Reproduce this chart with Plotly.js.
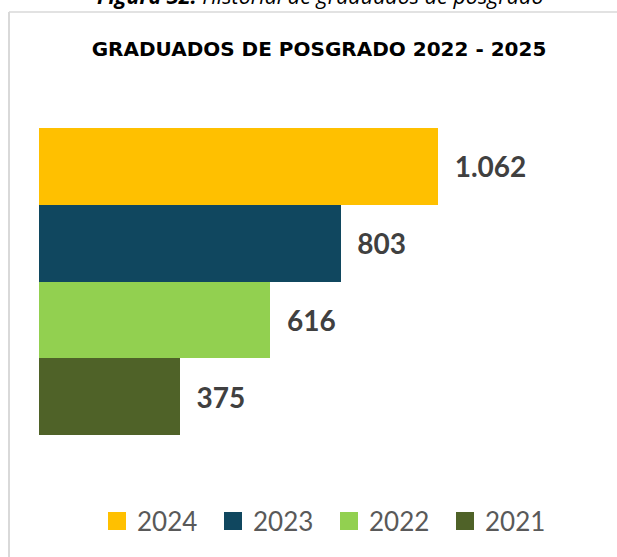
<!DOCTYPE html>
<html>
<head>
<meta charset="utf-8">
<script src="https://cdn.plot.ly/plotly-3.0.1.min.js"></script>
<style>
  html, body { margin: 0; padding: 0; background: #ffffff; }
  #chart { width: 617px; height: 557px; }
</style>
</head>
<body>
<div id="chart"></div>
<script>
// Data
const years = ['2024', '2023', '2022', '2021'];
const graduados = [1062, 803, 616, 375];
const barColors = ['#FFC000', '#10475F', '#92D050', '#4F6228'];

const chartTitle = 'GRADUADOS DE POSGRADO 2022 - 2025';
const captionText = '<b>Figura 32.</b> Historial de graduados de posgrado';

const traces = [];
years.forEach((yr, i) => {
  traces.push({
    type: 'bar',
    orientation: 'h',
    name: yr,
    y: [yr],
    x: [graduados[i]],
    marker: { color: barColors[i], line: { width: 0 } },
    texttemplate: '\u00a0\u00a0%{x:,}',
    textposition: 'outside',
    cliponaxis: false,
    textfont: { family: 'Lato, sans-serif', size: 28, color: '#404040', weight: 'bold' },
    showlegend: false,
    hoverinfo: 'skip'
  });
});
// legend entries
years.forEach((yr, i) => {
  traces.push({
    type: 'scatter',
    mode: 'markers',
    name: yr,
    x: [null],
    y: [null],
    marker: { symbol: 'square', size: 16, color: barColors[i], line: { width: 2, color: barColors[i] } },
    showlegend: true,
    hoverinfo: 'skip'
  });
});

const layout = {
  width: 617,
  height: 557,
  margin: { l: 39, r: 17, t: 128, b: 122 },
  paper_bgcolor: '#ffffff',
  plot_bgcolor: '#ffffff',
  separators: ',.',
  barmode: 'stack',
  bargap: 0,
  showlegend: true,
  title: {
    text: '<b>' + chartTitle + '</b>',
    font: { family: '"DejaVu Sans", sans-serif', size: 20, color: '#000000' },
    xref: 'container', x: 0.517, xanchor: 'center',
    yref: 'container', y: 1 - 49 / 557, yanchor: 'middle'
  },
  xaxis: {
    range: [0, 1493],
    visible: false,
    showgrid: false,
    zeroline: false,
    fixedrange: true
  },
  yaxis: {
    type: 'category',
    categoryorder: 'array',
    categoryarray: years.slice().reverse(),
    range: [-0.5, 3.5],
    visible: false,
    showgrid: false,
    fixedrange: true
  },
  legend: {
    orientation: 'h',
    xref: 'container', x: 97 / 617, xanchor: 'left',
    yref: 'container', y: 1 - 521 / 557, yanchor: 'middle',
    font: { family: 'Lato, sans-serif', size: 26, color: '#595959' },
    itemsizing: 'trace',
    traceorder: 'normal',
    entrywidth: 71,
    bgcolor: 'rgba(0,0,0,0)'
  },
  shapes: [
    { type: 'line', xref: 'paper', yref: 'paper', x0: -30 / 561, x1: 578 / 561, y0: 423 / 307, y1: 423 / 307,
      line: { color: '#D9D9D9', width: 1.5 } },
    { type: 'line', xref: 'paper', yref: 'paper', x0: -30 / 561, x1: -30 / 561, y0: 423 / 307, y1: -130 / 307,
      line: { color: '#D9D9D9', width: 2 } }
  ],
  annotations: [
    { text: captionText, showarrow: false, xref: 'paper', yref: 'paper',
      x: 56 / 561, xanchor: 'left', y: 423 / 307, yanchor: 'bottom',
      font: { family: '"Open Sans", sans-serif', size: 21.5, color: '#000000', style: 'italic' } }
  ]
};

Plotly.newPlot('chart', traces, layout, { displayModeBar: false, staticPlot: true });
</script>
</body>
</html>
